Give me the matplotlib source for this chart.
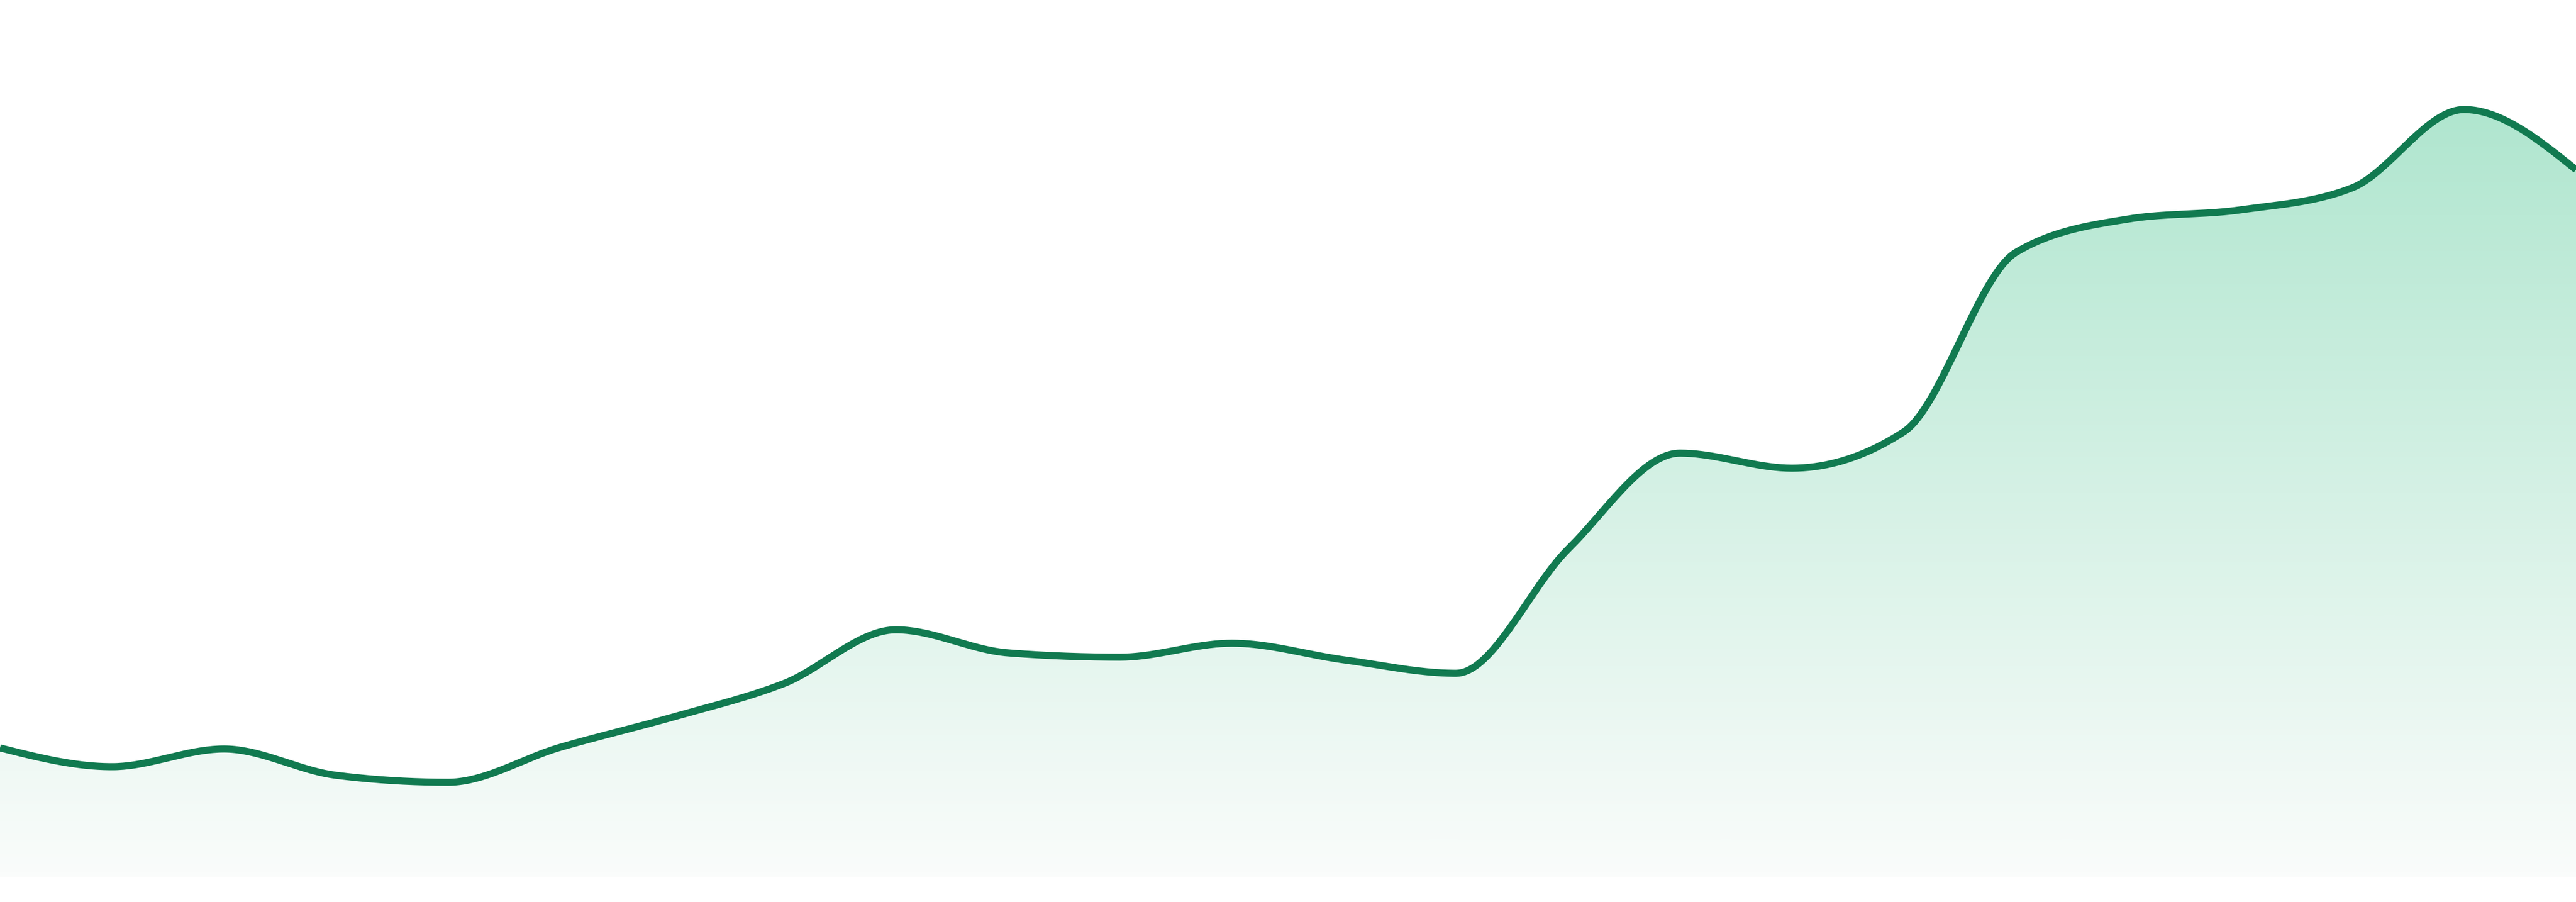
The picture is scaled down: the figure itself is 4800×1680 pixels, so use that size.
import numpy as np
import matplotlib
matplotlib.use("Agg")
import matplotlib.pyplot as plt
from matplotlib.colors import LinearSegmentedColormap
from matplotlib.patches import Polygon

# series values (24 evenly spaced points)
periods = list(range(24))
values = [24.0, 20.5, 23.8, 18.9, 17.6, 24.1, 29.7, 36.0, 46.0, 41.7,
          40.9, 43.5, 40.4, 37.9, 61.0, 78.9, 76.1, 82.9, 116.3, 122.5,
          124.2, 128.3, 142.9, 131.7]

LINE_COLOR = "#117a50"
FILL_TOP = "#b0e6cf"
FILL_BOTTOM = "#fafcfb"


def monotone_curve(x, y, steps=40):
    # monotone cubic smoothing of the line (like d3 curveMonotoneX)
    x = np.asarray(x, float)
    y = np.asarray(y, float)
    n = len(x)
    h = np.diff(x)
    s = np.diff(y) / h
    t = np.zeros(n)
    for i in range(1, n - 1):
        p = (s[i - 1] * h[i] + s[i] * h[i - 1]) / (h[i - 1] + h[i])
        t[i] = (np.sign(s[i - 1]) + np.sign(s[i])) * min(abs(s[i - 1]), abs(s[i]), 0.5 * abs(p))
    t[0] = (3 * s[0] - t[1]) / 2
    t[-1] = (3 * s[-1] - t[-2]) / 2
    xs, ys = [], []
    u = np.linspace(0, 1, steps, endpoint=False)
    for i in range(n - 1):
        dx = h[i] / 3
        p0 = np.array([x[i], y[i]])
        p1 = np.array([x[i] + dx, y[i] + dx * t[i]])
        p2 = np.array([x[i + 1] - dx, y[i + 1] - dx * t[i + 1]])
        p3 = np.array([x[i + 1], y[i + 1]])
        b = ((1 - u) ** 3)[:, None] * p0 + (3 * (1 - u) ** 2 * u)[:, None] * p1 \
            + (3 * (1 - u) * u ** 2)[:, None] * p2 + (u ** 3)[:, None] * p3
        xs.append(b[:, 0])
        ys.append(b[:, 1])
    xs.append([x[-1]])
    ys.append([y[-1]])
    return np.concatenate(xs), np.concatenate(ys)


cx, cy = monotone_curve(periods, values)

fig = plt.figure(figsize=(48, 16.8), dpi=100)
ax = fig.add_axes([0, 0, 1, 1])
ax.set_xlim(periods[0], periods[-1])
ax.set_ylim(-4.7, 163.3)
ax.axis("off")

# gradient area under the line
verts = np.column_stack([np.r_[cx, cx[-1], cx[0]], np.r_[cy, 0, 0]])
area = Polygon(verts, closed=True, facecolor="none", edgecolor="none")
ax.add_patch(area)
cmap = LinearSegmentedColormap.from_list("fade", [FILL_BOTTOM, FILL_TOP])
grad = np.linspace(0, 1, 256).reshape(-1, 1)
im = ax.imshow(grad, cmap=cmap, aspect="auto", origin="lower",
               extent=[periods[0], periods[-1], 0, max(values)], interpolation="bilinear")
im.set_clip_path(area)

ax.plot(cx, cy, color=LINE_COLOR, linewidth=9.5, solid_capstyle="butt", zorder=3)

fig.savefig("out.png", dpi=100, facecolor="white")
